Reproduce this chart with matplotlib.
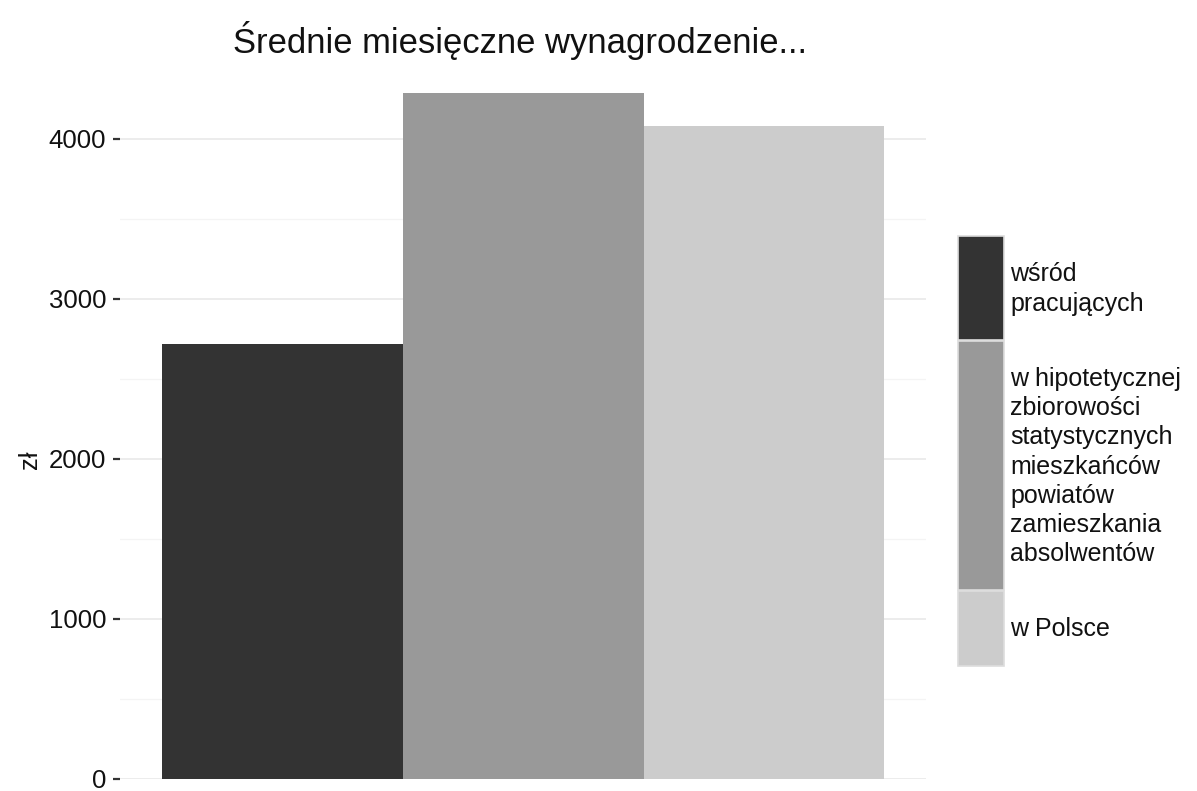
import matplotlib
matplotlib.use("Agg")
import matplotlib.pyplot as plt
from matplotlib.patches import Rectangle

categories = ["wśród\npracujących",
              "w hipotetycznej\nzbiorowości\nstatystycznych\nmieszkańców\npowiatów\nzamieszkania\nabsolwentów",
              "w Polsce"]
values = [2720, 4287, 4081]
colors = ["#333333", "#999999", "#cccccc"]
yticks = [0, 1000, 2000, 3000, 4000]
yminor = [500, 1500, 2500, 3500]
title = "Średnie miesięczne wynagrodzenie..."
ylabel = "zł"

plt.rcParams['font.family'] = ['Liberation Sans', 'DejaVu Sans']

W, H = 1197, 791
fig = plt.figure(figsize=(W / 100, H / 100), dpi=100)

# panel in pixel coords
px_left, px_right, px_bottom, px_top = 120, 926, 779, 59
ax = fig.add_axes([px_left / W, (H - px_bottom) / H,
                   (px_right - px_left) / W, (px_bottom - px_top) / H])

n = len(values)
bw = 0.3
xs = [(i - (n - 1) / 2) * bw for i in range(n)]
ax.bar(xs, values, width=bw, color=colors, edgecolor='none', zorder=2)
half = 0.5 * bw * n * 806 / 723
ax.set_xlim(-half, half)
ax.set_ylim(0, 4500)

for v in yticks:
    ax.axhline(v, color='#ebebeb', lw=1.3, zorder=0)
for v in yminor:
    ax.axhline(v, color='#f4f4f4', lw=0.9, zorder=0)

ax.set_yticks(yticks)
ax.set_yticklabels([str(v) for v in yticks])
ax.tick_params(axis='y', length=5, width=1.6, color='#333333', pad=5,
               labelsize=18.5, labelcolor='#111111')
ax.set_xticks([])
for s in ax.spines.values():
    s.set_visible(False)
ax.patch.set_alpha(0)

fig.text(30 / W, 1 - 460 / H, ylabel, rotation=90, ha='center', va='center',
         fontsize=18.5, color='#111111')
fig.text(520 / W, 1 - 40 / H, title, ha='center', va='center',
         fontsize=24.9, color='#111111')

# legend (manual, pixel coordinates)
lax = fig.add_axes([0, 0, 1, 1])
lax.set_xlim(0, W)
lax.set_ylim(H, 0)
lax.axis('off')
line_h = 29
y = 236
key_x, key_w = 958, 46
for lab, col in zip(categories, colors):
    nl = lab.count("\n") + 1
    h = nl * line_h + 46
    lax.add_patch(Rectangle((key_x, y), key_w, h, facecolor=col,
                            edgecolor='#dddddd', lw=1.2))
    lax.text(1010, y + h / 2 + 1, lab, ha='left', va='center',
             fontsize=18, color='#111111', linespacing=1.27)
    y += h + 1

fig.savefig("out.png", dpi=100)
